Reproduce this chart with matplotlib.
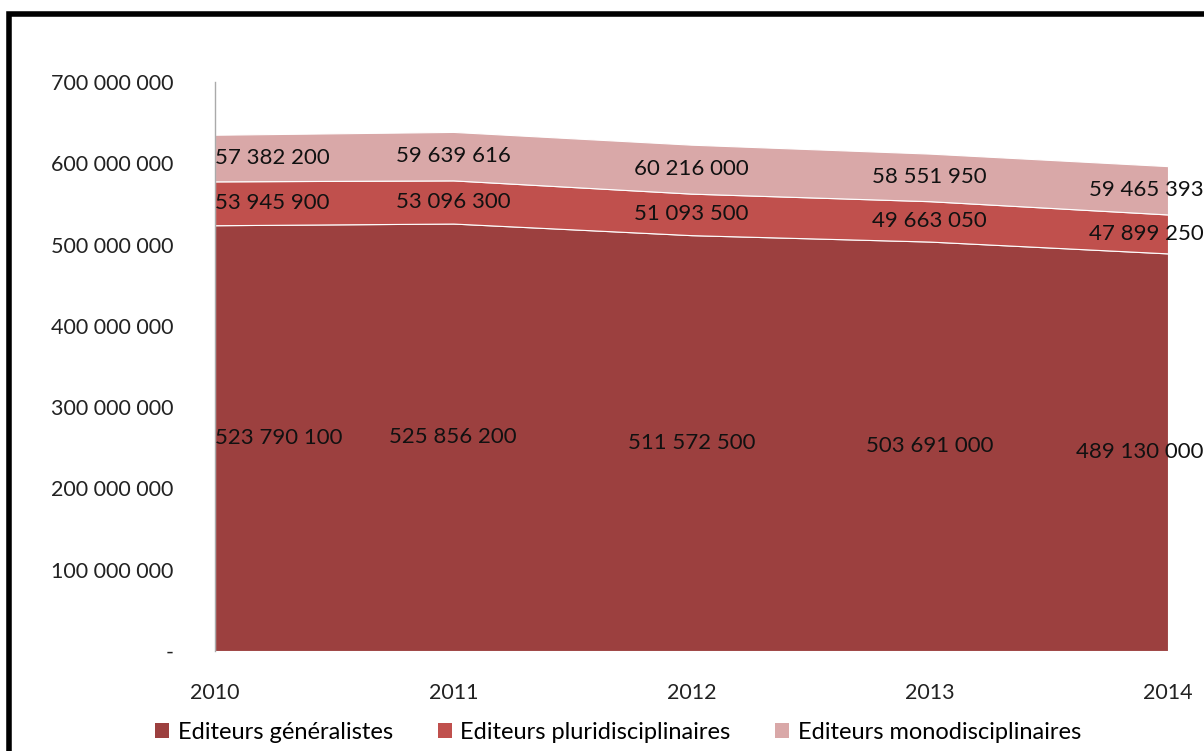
import numpy as np
import matplotlib
matplotlib.use("Agg")
import matplotlib.pyplot as plt
from matplotlib.patches import Rectangle, Patch
from matplotlib.ticker import FuncFormatter

plt.rcParams['font.family'] = ['Lato', 'DejaVu Sans']

years = [2010, 2011, 2012, 2013, 2014]
generalistes = [523790100, 525856200, 511572500, 503691000, 489130000]
pluri = [53945900, 53096300, 51093500, 49663050, 47899250]
mono = [57382200, 59639616, 60216000, 58551950, 59465393]
series_names = ["Editeurs généralistes", "Editeurs pluridisciplinaires",
                "Editeurs monodisciplinaires"]
colors = ["#9C403F", "#C0504D", "#D9A8A8"]


def fmt(v):
    return f"{int(v):,}".replace(",", " ")


fig = plt.figure(figsize=(12.04, 7.51), dpi=100)
ax = fig.add_axes([215 / 1204, 1 - 651 / 751, (1168 - 215) / 1204, (651 - 82) / 751])

x = np.arange(len(years))
stack = [np.array(generalistes), np.array(pluri), np.array(mono)]
ax.stackplot(x, *stack, colors=colors, edgecolor="white", linewidth=0.8)

ax.set_xlim(0, len(years) - 1)
ax.set_ylim(0, 700000000)
ax.set_yticks(np.arange(0, 700000001, 100000000))
ax.yaxis.set_major_formatter(FuncFormatter(lambda v, p: "-" if v == 0 else fmt(v)))
ax.set_xticks(x)
ax.set_xticklabels([str(y) for y in years])
ax.tick_params(axis="y", length=0, pad=30, labelsize=15.5, colors="#222222")
ax.tick_params(axis="x", length=0, pad=23, labelsize=15.5, colors="#222222")
for s in ["top", "right", "bottom"]:
    ax.spines[s].set_visible(False)
ax.spines["left"].set_color("#aaaaaa")
ax.spines["left"].set_linewidth(1)

# data labels in the middle of each layer
base = np.zeros(len(years))
for vals in stack:
    for i, v in enumerate(vals):
        ymid = base[i] + v / 2
        if i == 0:
            ha, dx = "left", 0
        elif i == len(years) - 1:
            ha, dx = "right", 36
        else:
            ha, dx = "center", 0
        ax.annotate(fmt(v), (x[i], ymid), xytext=(dx, 0), textcoords="offset pixels",
                    ha=ha, va="center", fontsize=16, color="#111111",
                    annotation_clip=False)
    base = base + vals

handles = [Patch(facecolor=c, edgecolor="none") for c in colors]
fig.legend(handles, series_names, loc="lower left", bbox_to_anchor=(134 / 1204, -0.017),
           ncol=3, frameon=False, fontsize=17, handlelength=0.6, handleheight=0.6,
           handletextpad=0.35, columnspacing=1.9)

# outer black frame
fig.patches.append(Rectangle((9 / 1204, -0.05), 1.1, 1 - 14 / 751 + 0.05,
                             transform=fig.transFigure, fill=False,
                             edgecolor="black", linewidth=4, zorder=10))

fig.savefig("out.png", dpi=100)
